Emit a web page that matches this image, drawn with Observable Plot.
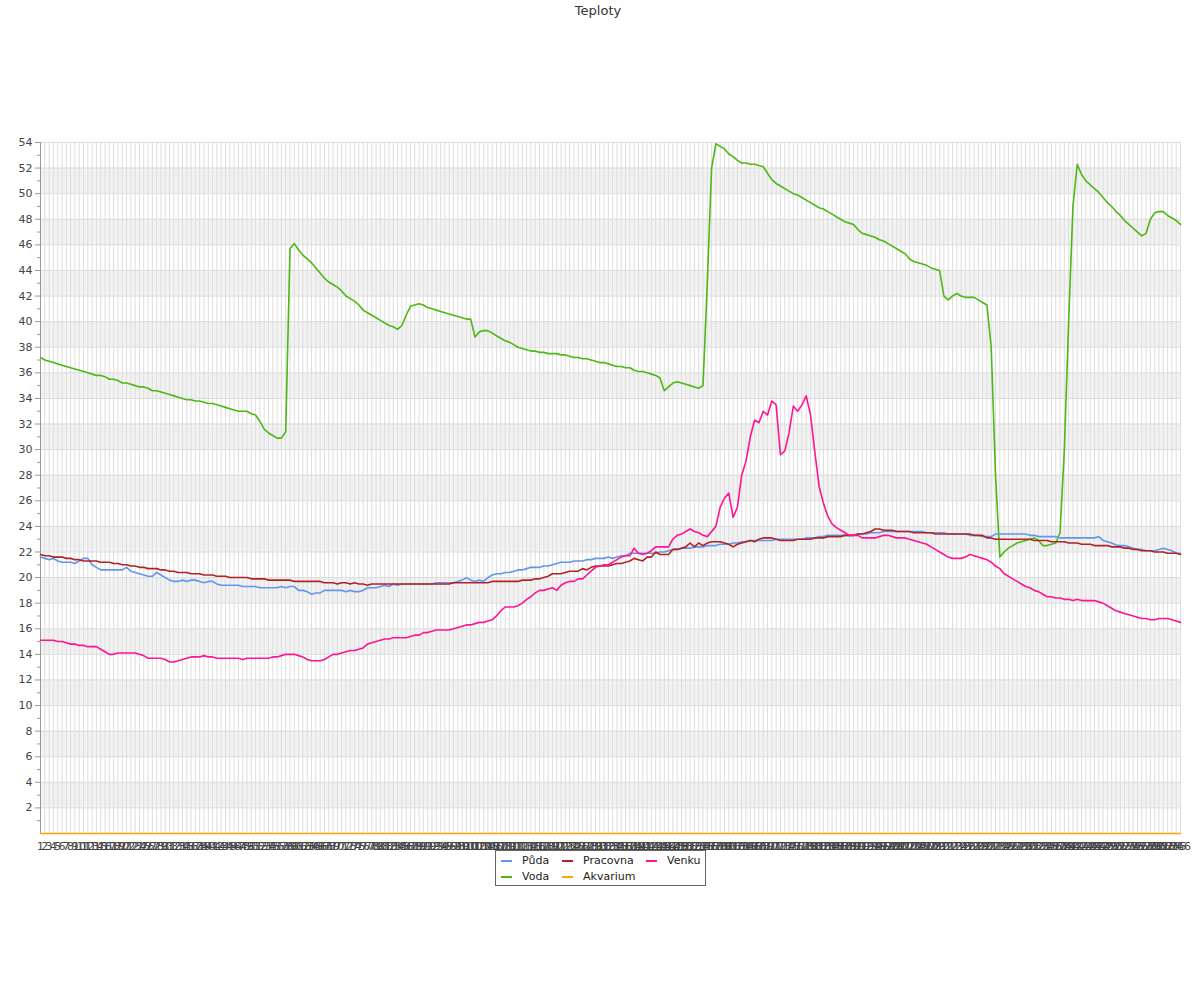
<!DOCTYPE html>
<html>
<head>
<meta charset="utf-8">
<script src="https://cdn.jsdelivr.net/npm/d3@7"></script>
<script src="https://cdn.jsdelivr.net/npm/@observablehq/plot@0.6"></script>
<style>
  body { margin: 0; background: #fff; font-family: "DejaVu Sans", sans-serif; }
  #wrap { position: relative; width: 1200px; height: 1000px; }
  #title { position: absolute; top: 3px; left: 0; width: 1196px; text-align: center; font-size: 13px; color: #333; }
  #chart { position: absolute; top: 0; left: 0; }
  #legend { position: absolute; left: 495px; top: 850px; width: 209px; height: 34px; border: 1px solid #666; background: #fff; font-size: 11px; color: #222; }
  .item { position: absolute; height: 14px; line-height: 14px; }
  .sw { position: absolute; top: 6px; left: 0; width: 11px; height: 2px; }
  .lb { position: absolute; left: 21px; top: 0; white-space: nowrap; }
</style>
</head>
<body>
<div id="wrap">
  <div id="title">Teploty</div>
  <div id="chart"></div>
  <div id="legend"></div>
</div>
<script>
const seriesNames = ["Půda", "Voda", "Pracovna", "Akvarium", "Venku"];
const seriesColors = ["#6495ed", "#4cb814", "#b22222", "#ffa500", "#ff1493"];

const yMajorTicks = [2,4,6,8,10,12,14,16,18,20,22,24,26,28,30,32,34,36,38,40,42,44,46,48,50,52,54];
const yMinorTicks = [1,3,5,7,9,11,13,15,17,19,21,23,25,27,29,31,33,35,37,39,41,43,45,47,49,51,53];
const bandStarts = [2,6,10,14,18,22,26,30,34,38,42,46,50];

const puda = [
21.6,21.5,21.4,21.5,21.3,21.2,21.2,21.2,21.1,21.3,
21.5,21.5,21.0,20.8,20.6,20.6,20.6,20.6,20.6,20.6,
20.8,20.5,20.4,20.3,20.2,20.1,20.1,20.4,20.2,20.0,
19.8,19.7,19.7,19.8,19.7,19.8,19.8,19.7,19.6,19.7,
19.7,19.5,19.4,19.4,19.4,19.4,19.4,19.3,19.3,19.3,
19.3,19.2,19.2,19.2,19.2,19.2,19.3,19.2,19.3,19.3,
19.0,19.0,18.9,18.7,18.8,18.8,19.0,19.0,19.0,19.0,
19.0,18.9,19.0,18.9,18.9,19.0,19.2,19.2,19.2,19.3,
19.4,19.3,19.5,19.4,19.5,19.5,19.5,19.5,19.5,19.5,
19.5,19.5,19.6,19.6,19.6,19.6,19.6,19.7,19.8,20.0,
19.8,19.7,19.8,19.7,20.0,20.2,20.3,20.3,20.4,20.4,
20.5,20.6,20.6,20.7,20.8,20.8,20.8,20.9,20.9,21.0,
21.1,21.2,21.2,21.2,21.3,21.3,21.3,21.4,21.4,21.5,
21.5,21.5,21.6,21.5,21.6,21.7,21.7,21.9,21.9,21.9,
21.9,21.9,21.9,21.9,22.0,22.0,22.1,22.2,22.2,22.3,
22.3,22.3,22.4,22.4,22.4,22.5,22.5,22.5,22.6,22.6,
22.6,22.7,22.7,22.8,22.8,22.9,22.9,22.9,22.9,22.9,
22.9,23.0,23.0,23.0,23.0,23.0,23.0,23.0,23.1,23.1,
23.1,23.2,23.2,23.3,23.3,23.3,23.3,23.3,23.3,23.3,
23.4,23.4,23.4,23.5,23.5,23.5,23.6,23.6,23.6,23.6,
23.6,23.6,23.6,23.6,23.6,23.6,23.5,23.5,23.5,23.5,
23.5,23.4,23.4,23.4,23.4,23.4,23.3,23.3,23.3,23.2,
23.2,23.2,23.4,23.4,23.4,23.4,23.4,23.4,23.4,23.4,
23.3,23.3,23.2,23.2,23.2,23.2,23.2,23.1,23.1,23.1,
23.1,23.1,23.1,23.1,23.1,23.1,23.2,22.9,22.8,22.7,
22.55,22.5,22.5,22.4,22.3,22.2,22.2,22.1,22.1,22.1,
22.2,22.3,22.2,22.1,21.9,21.9];

const voda = [
37.2,37.0,36.9,36.8,36.7,36.6,36.5,36.4,36.3,36.2,
36.1,36.0,35.9,35.8,35.8,35.7,35.5,35.5,35.4,35.2,
35.2,35.1,35.0,34.9,34.9,34.8,34.6,34.6,34.5,34.4,
34.3,34.2,34.1,34.0,33.9,33.9,33.8,33.8,33.7,33.6,
33.6,33.5,33.4,33.3,33.2,33.1,33.0,33.0,33.0,32.8,
32.7,32.2,31.6,31.3,31.1,30.9,30.9,31.4,45.7,46.1,
45.6,45.2,44.9,44.6,44.2,43.8,43.4,43.1,42.9,42.7,
42.4,42.0,41.8,41.6,41.3,40.9,40.7,40.5,40.3,40.1,
39.9,39.7,39.6,39.4,39.7,40.5,41.2,41.3,41.4,41.3,
41.1,41.0,40.9,40.8,40.7,40.6,40.5,40.4,40.3,40.2,
40.2,38.8,39.2,39.3,39.3,39.1,38.9,38.7,38.5,38.4,
38.2,38.0,37.9,37.8,37.7,37.7,37.6,37.6,37.5,37.5,
37.5,37.4,37.4,37.3,37.2,37.2,37.1,37.1,37.0,36.9,
36.8,36.8,36.7,36.6,36.5,36.5,36.4,36.4,36.2,36.1,
36.1,36.0,35.9,35.8,35.6,34.6,34.9,35.2,35.3,35.2,
35.1,35.0,34.9,34.8,35.0,43.0,52.0,53.9,53.7,53.5,
53.1,52.9,52.6,52.4,52.4,52.3,52.3,52.2,52.1,51.6,
51.1,50.8,50.6,50.4,50.2,50.0,49.9,49.7,49.5,49.3,
49.1,48.9,48.8,48.6,48.4,48.2,48.0,47.8,47.7,47.6,
47.2,46.9,46.8,46.7,46.6,46.4,46.3,46.1,45.9,45.7,
45.5,45.3,44.9,44.7,44.6,44.5,44.4,44.2,44.1,44.0,
42.0,41.7,42.0,42.2,42.0,41.9,41.9,41.9,41.7,41.5,
41.3,38.0,28.0,21.6,22.0,22.3,22.5,22.7,22.8,22.9,
23.0,23.1,22.9,22.5,22.5,22.6,22.7,23.5,30.0,40.0,
49.0,52.3,51.5,51.0,50.7,50.4,50.1,49.7,49.3,49.0,
48.6,48.3,47.9,47.6,47.3,47.0,46.7,46.9,48.0,48.5,
48.6,48.6,48.3,48.1,47.9,47.6];

const pracovna = [
21.8,21.7,21.7,21.6,21.6,21.6,21.5,21.5,21.4,21.4,
21.3,21.3,21.3,21.3,21.2,21.2,21.2,21.1,21.1,21.0,
21.0,20.9,20.9,20.8,20.8,20.7,20.7,20.7,20.6,20.6,
20.5,20.5,20.4,20.4,20.4,20.3,20.3,20.3,20.2,20.2,
20.2,20.1,20.1,20.1,20.0,20.0,20.0,20.0,20.0,19.9,
19.9,19.9,19.9,19.8,19.8,19.8,19.8,19.8,19.8,19.7,
19.7,19.7,19.7,19.7,19.7,19.7,19.6,19.6,19.6,19.5,
19.6,19.6,19.5,19.6,19.5,19.5,19.4,19.5,19.5,19.5,
19.5,19.5,19.5,19.5,19.5,19.5,19.5,19.5,19.5,19.5,
19.5,19.5,19.5,19.5,19.5,19.5,19.6,19.6,19.6,19.6,
19.6,19.6,19.6,19.6,19.6,19.7,19.7,19.7,19.7,19.7,
19.7,19.7,19.8,19.8,19.8,19.9,19.9,20.0,20.1,20.3,
20.3,20.3,20.4,20.5,20.5,20.5,20.7,20.6,20.8,20.9,
20.9,20.9,20.9,21.0,21.1,21.1,21.2,21.3,21.5,21.4,
21.3,21.6,21.6,22.0,21.8,21.8,21.8,22.2,22.2,22.3,
22.4,22.7,22.4,22.7,22.5,22.7,22.8,22.8,22.8,22.7,
22.6,22.4,22.6,22.7,22.8,22.9,22.8,23.0,23.1,23.1,
23.1,23.0,22.9,22.9,22.9,22.9,23.0,23.0,23.0,23.0,
23.1,23.1,23.1,23.2,23.2,23.2,23.2,23.3,23.3,23.3,
23.4,23.4,23.5,23.6,23.8,23.8,23.7,23.7,23.7,23.6,
23.6,23.6,23.6,23.5,23.5,23.5,23.5,23.5,23.4,23.4,
23.4,23.4,23.4,23.4,23.4,23.4,23.4,23.3,23.3,23.3,
23.1,23.1,23.0,23.0,23.0,23.0,23.0,23.0,23.0,23.0,
23.0,22.9,22.9,22.9,22.9,22.8,22.8,22.8,22.8,22.7,
22.7,22.7,22.6,22.6,22.6,22.5,22.5,22.5,22.5,22.4,
22.4,22.4,22.3,22.3,22.2,22.2,22.1,22.1,22.1,22.0,
22.0,22.0,21.9,21.9,21.9,21.8];

const akvarium = [
0,0,0,0,0,0,0,0,0,0, 0,0,0,0,0,0,0,0,0,0, 0,0,0,0,0,0,0,0,0,0,
0,0,0,0,0,0,0,0,0,0, 0,0,0,0,0,0,0,0,0,0, 0,0,0,0,0,0,0,0,0,0,
0,0,0,0,0,0,0,0,0,0, 0,0,0,0,0,0,0,0,0,0, 0,0,0,0,0,0,0,0,0,0,
0,0,0,0,0,0,0,0,0,0, 0,0,0,0,0,0,0,0,0,0, 0,0,0,0,0,0,0,0,0,0,
0,0,0,0,0,0,0,0,0,0, 0,0,0,0,0,0,0,0,0,0, 0,0,0,0,0,0,0,0,0,0,
0,0,0,0,0,0,0,0,0,0, 0,0,0,0,0,0,0,0,0,0, 0,0,0,0,0,0,0,0,0,0,
0,0,0,0,0,0,0,0,0,0, 0,0,0,0,0,0,0,0,0,0, 0,0,0,0,0,0,0,0,0,0,
0,0,0,0,0,0,0,0,0,0, 0,0,0,0,0,0,0,0,0,0, 0,0,0,0,0,0,0,0,0,0,
0,0,0,0,0,0,0,0,0,0, 0,0,0,0,0,0,0,0,0,0, 0,0,0,0,0,0,0,0,0,0,
0,0,0,0,0,0,0,0,0,0, 0,0,0,0,0,0,0,0,0,0, 0,0,0,0,0,0,0,0,0,0,
0,0,0,0,0,0,0,0,0,0, 0,0,0,0,0,0,0,0,0,0, 0,0,0,0,0,0,0,0,0,0,
0,0,0,0,0,0,0,0,0,0, 0,0,0,0,0,0,0,0,0,0, 0,0,0,0,0,0,0,0,0,0,
0,0,0,0,0,0,0,0,0,0, 0,0,0,0,0,0,0,0,0,0, 0,0,0,0,0,0,0,0,0,0,
0,0,0,0,0,0,0,0,0,0, 0,0,0,0,0,0,0,0,0,0, 0,0,0,0,0,0,0,0,0,0,
0,0,0,0,0,0,0,0,0,0, 0,0,0,0,0,0,0,0,0,0, 0,0,0,0,0,0,0,0,0,0,
0,0,0,0,0,0,0,0,0,0, 0,0,0,0,0,0,0,0,0,0, 0,0,0,0,0,0,0,0,0,0,
0,0,0,0,0,0,0,0,0,0, 0,0,0,0,0,0,0,0,0,0, 0,0,0,0,0,0,0,0,0,0,
0,0,0,0,0,0,0,0,0,0, 0,0,0,0,0,0,0,0,0,0, 0,0,0,0,0,0,0,0,0,0,
0,0,0,0,0,0,0,0,0,0, 0,0,0,0,0,0,0,0,0,0, 0,0,0,0,0,0,0,0,0,0,
0,0,0,0,0,0,0,0,0,0, 0,0,0,0,0,0,0,0,0,0, 0,0,0,0,0,0,0,0,0,0,
0,0,0,0,0,0,0,0,0,0, 0,0,0,0,0,0,0,0,0,0, 0,0,0,0,0,0,0,0,0,0,
0,0,0,0,0,0,0,0,0,0, 0,0,0,0,0,0,0,0,0,0, 0,0,0,0,0,0,0,0,0,0,
0,0,0,0,0,0,0,0,0,0, 0,0,0,0,0,0,0,0,0,0, 0,0,0,0,0,0,0,0,0,0,
0,0,0,0,0,0,0,0,0,0, 0,0,0,0,0,0,0,0,0,0, 0,0,0,0,0,0,0,0,0,0,
0,0,0,0,0,0,0,0,0,0, 0,0,0,0,0,0,0,0,0,0, 0,0,0,0,0,0,0,0,0,0,
0,0,0,0,0,0,0,0,0,0, 0,0,0,0,0,0,0,0,0,0, 0,0,0,0,0,0,0,0,0,0,
0,0,0,0,0,0,0,0,0,0, 0,0,0,0,0,0,0,0,0,0, 0,0,0,0,0,0,0,0,0,0,
0,0,0,0,0,0,0,0,0,0, 0,0,0,0,0,0,0,0,0,0, 0,0,0,0,0,0,0,0,0,0,
0,0,0,0,0,0,0,0,0,0, 0,0,0,0,0,0,0,0,0,0, 0,0,0,0,0,0,0,0,0,0
];

const venku = [
15.1,15.1,15.1,15.1,15.0,15.0,14.9,14.8,14.8,14.7,
14.7,14.6,14.6,14.6,14.4,14.2,14.0,14.0,14.1,14.1,
14.1,14.1,14.1,14.0,13.9,13.7,13.7,13.7,13.7,13.6,
13.4,13.4,13.5,13.6,13.7,13.8,13.8,13.8,13.9,13.8,
13.8,13.7,13.7,13.7,13.7,13.7,13.7,13.6,13.7,13.7,
13.7,13.7,13.7,13.7,13.8,13.8,13.9,14.0,14.0,14.0,
13.9,13.8,13.6,13.5,13.5,13.5,13.6,13.8,14.0,14.0,
14.1,14.2,14.3,14.3,14.4,14.5,14.8,14.9,15.0,15.1,
15.2,15.2,15.3,15.3,15.3,15.3,15.4,15.5,15.5,15.7,
15.7,15.8,15.9,15.9,15.9,15.9,16.0,16.1,16.2,16.3,
16.3,16.4,16.5,16.5,16.6,16.7,17.0,17.4,17.7,17.7,
17.7,17.8,18.0,18.3,18.5,18.8,19.0,19.0,19.1,19.2,
19.0,19.4,19.6,19.7,19.7,19.9,19.9,20.2,20.5,20.8,
20.9,21.0,21.0,21.2,21.4,21.6,21.7,21.7,22.3,21.9,
21.8,21.9,22.1,22.4,22.4,22.4,22.4,23.0,23.3,23.4,
23.6,23.8,23.6,23.5,23.3,23.2,23.6,24.0,25.5,26.2,
26.6,24.7,25.5,28.0,29.1,31.0,32.3,32.1,33.0,32.7,
33.8,33.5,29.6,29.9,31.3,33.4,33.0,33.5,34.2,32.7,
29.8,27.1,25.8,24.8,24.2,23.9,23.7,23.5,23.3,23.3,
23.3,23.1,23.1,23.1,23.1,23.2,23.3,23.3,23.2,23.1,
23.1,23.1,23.0,22.9,22.8,22.7,22.6,22.4,22.2,22.0,
21.8,21.6,21.5,21.5,21.5,21.6,21.8,21.7,21.6,21.5,
21.4,21.2,20.9,20.7,20.3,20.1,19.9,19.7,19.5,19.3,
19.2,19.0,18.9,18.7,18.5,18.5,18.4,18.4,18.3,18.3,
18.2,18.3,18.2,18.2,18.2,18.2,18.1,18.0,17.8,17.6,
17.4,17.3,17.2,17.1,17.0,16.9,16.8,16.8,16.7,16.7,
16.8,16.8,16.8,16.7,16.6,16.5];

const categories = puda.map((_, i) => i + 1);

const seriesValues = { "Půda": puda, "Voda": voda, "Pracovna": pracovna, "Akvarium": akvarium, "Venku": venku };
const drawOrder = ["Voda", "Půda", "Pracovna", "Venku", "Akvarium"];
const rows = [];
for (const name of drawOrder) {
  seriesValues[name].forEach((v, i) => rows.push({ x: categories[i], y: v, series: name }));
}

const chart = Plot.plot({
  width: 1200,
  height: 860,
  marginTop: 142,
  marginBottom: 27,
  marginLeft: 40,
  marginRight: 20,
  style: { fontFamily: "DejaVu Sans, sans-serif", fontSize: "11px", color: "#444", background: "transparent" },
  x: { type: "point", domain: categories, padding: 0, axis: null },
  y: { domain: [0, 54], axis: null },
  color: { domain: seriesNames, range: seriesColors },
  marks: [
    Plot.rect(bandStarts, { y1: d => d, y2: d => d + 2, fill: "#f2f2f2" }),
    Plot.ruleX(categories, { stroke: "#dedede", strokeWidth: 1 }),
    Plot.ruleY(yMajorTicks, { stroke: "#dcdcdc", strokeWidth: 1 }),
    Plot.ruleX([categories[0]], { stroke: "#999", strokeWidth: 1 }),
    Plot.axisY(yMajorTicks, { tickSize: 5, tickPadding: 3, label: null, stroke: "#999", fill: "#444" }),
    Plot.axisY(yMinorTicks, { tickSize: 3, tickFormat: () => "", label: null, stroke: "#999" }),
    Plot.axisX(categories, { tickSize: 0, tickPadding: 9, label: null, fill: "#444" }),
    Plot.line(rows, { x: "x", y: "y", z: "series", stroke: "series", strokeWidth: 1.6, curve: "linear" })
  ]
});
document.getElementById("chart").appendChild(chart);

// legend
const legendPos = [
  { name: "Půda", left: 5, top: 3 },
  { name: "Pracovna", left: 66, top: 3 },
  { name: "Venku", left: 150, top: 3 },
  { name: "Voda", left: 5, top: 19 },
  { name: "Akvarium", left: 66, top: 19 }
];
const legend = document.getElementById("legend");
for (const p of legendPos) {
  const color = seriesColors[seriesNames.indexOf(p.name)];
  const it = document.createElement("div");
  it.className = "item";
  it.style.left = p.left + "px";
  it.style.top = p.top + "px";
  it.innerHTML = `<div class="sw" style="background:${color}"></div><div class="lb">${p.name}</div>`;
  legend.appendChild(it);
}
</script>
</body>
</html>
